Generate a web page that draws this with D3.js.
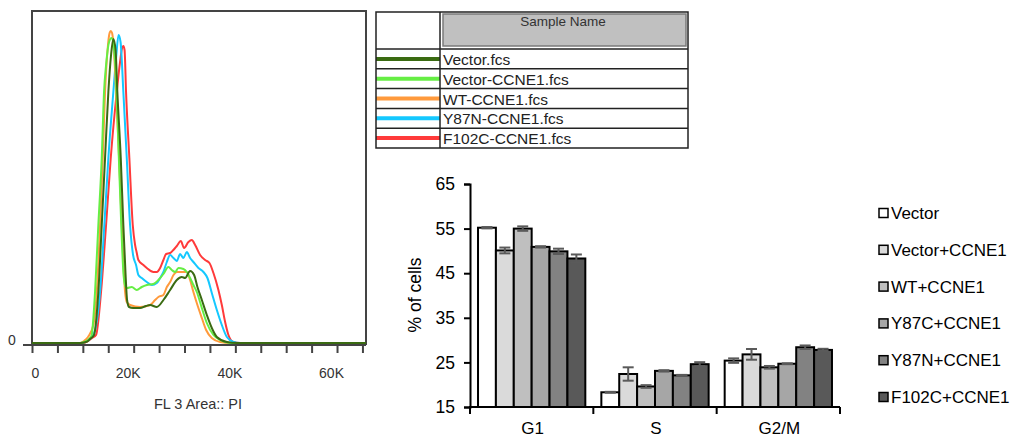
<!DOCTYPE html>
<html>
<head>
<meta charset="utf-8">
<script src="https://cdn.jsdelivr.net/npm/d3@7"></script>
<style>
  body { margin: 0; background: #fff; }
  svg { display: block; font-family: "Liberation Sans", Arial, sans-serif; }
</style>
</head>
<body>
<div id="chart"></div>
<script>
// ---- histogram data (x in K units of FL 3 Area, y in counts) ----
var histSamples = ["Vector.fcs", "Vector-CCNE1.fcs", "WT-CCNE1.fcs", "Y87N-CCNE1.fcs", "F102C-CCNE1.fcs"];
var histColors = ["#3a6b12", "#66ee44", "#ff9a3c", "#14c8ff", "#ff3a3a"];
var histTicks = [0, 5, 10, 15, 20, 25, 30, 35, 40, 45, 50, 55, 60, 65];

var vectorCurve = [[0,0],[9.45,0],[10.63,1],[11.02,2],[11.42,4],[12.2,8],[13.05,51],[13.72,118],[14.37,185],[15.02,251],[15.55,288],[16.0,304],[16.44,293],[16.79,251],[17.46,185],[17.97,118],[18.41,68],[18.7,43],[19.09,36],[19.88,35],[21.26,35],[22.44,37],[23.23,38],[24.55,36],[25.85,43],[27.17,53],[28.48,63],[29.47,66],[30.12,65],[31.1,72],[31.89,68],[32.54,56],[33.41,43],[34.39,28],[35.37,15],[36.36,6],[38.33,1],[40.3,0],[65.7,0]];
var vectorCcne1Curve = [[0,0],[9.45,0],[10.24,1],[11.02,3],[11.75,8],[12.07,25],[12.4,51],[13.05,118],[13.72,185],[14.17,251],[14.57,278],[15.16,301],[15.65,305],[16.04,298],[16.54,263],[17.03,193],[17.52,123],[18.01,68],[18.41,56],[18.7,55],[19.63,56],[20.61,53],[21.59,56],[22.58,58],[23.88,59],[24.86,63],[25.85,69],[26.83,76],[27.5,73],[28.15,71],[28.8,75],[29.78,74],[30.45,71],[31.1,65],[31.75,58],[32.42,51],[33.41,35],[34.39,20],[35.69,8],[37.01,3],[38.98,0],[65.7,0]];
var wtCurve = [[0,0],[9.45,0],[10.24,2],[11.02,6],[12.07,18],[12.74,51],[13.39,118],[13.92,185],[14.37,251],[14.86,293],[15.26,310],[15.49,312],[15.75,310],[16.04,298],[16.54,251],[17.13,185],[17.66,118],[18.31,51],[18.64,41],[19.29,38],[21.26,36],[23.23,38],[24.21,43],[24.86,46],[25.85,48],[26.52,56],[27.17,61],[27.83,68],[28.48,71],[29.47,71],[30.45,71],[31.1,63],[31.75,51],[32.54,38],[33.41,25],[34.25,13],[35.37,5],[37.01,1],[38.98,0],[65.7,0]];
var y87nCurve = [[0,0],[9.84,0],[10.83,2],[11.61,5],[12.4,13],[13.39,51],[14.23,118],[15.02,185],[16.0,251],[16.54,285],[17.03,308],[17.42,301],[17.97,251],[18.64,185],[19.29,118],[19.88,88],[20.47,78],[20.93,68],[21.59,65],[22.58,61],[23.56,58],[24.55,60],[25.2,65],[25.85,71],[26.52,81],[27.17,88],[27.83,85],[28.48,82],[29.13,89],[29.78,85],[30.45,91],[31.1,85],[31.75,81],[32.74,75],[33.72,71],[34.51,65],[35.37,50],[36.36,33],[37.34,18],[38.33,6],[39.63,1],[40.94,0],[65.7,0]];
var f102cCurve = [[0,0],[10.04,0],[11.02,2],[11.81,5],[12.6,8],[13.58,51],[14.57,118],[15.49,185],[16.67,251],[17.32,281],[17.72,295],[17.97,297],[18.21,293],[18.5,251],[19.15,185],[19.82,118],[20.28,98],[20.57,91],[20.93,83],[21.91,78],[22.58,75],[23.88,71],[24.55,71],[25.2,75],[25.85,83],[26.38,89],[27.17,90],[27.81,93],[28.48,97],[29.27,102],[29.92,95],[30.77,101],[31.44,103],[32.09,98],[33.07,88],[34.06,83],[34.9,80],[35.69,70],[36.67,53],[37.34,38],[37.99,21],[38.64,8],[39.63,1],[40.94,0],[65.7,0]];
var histCurves = [vectorCurve, vectorCcne1Curve, wtCurve, y87nCurve, f102cCurve];

// ---- bar chart data ----
var phases = ["G1", "S", "G2/M"];
var groups = ["Vector", "Vector+CCNE1", "WT+CCNE1", "Y87C+CCNE1", "Y87N+CCNE1", "F102C+CCNE1"];
var g1Values = [55.2, 50.1, 55.0, 50.9, 49.9, 48.3];
var g1Errors = [0.15, 0.65, 0.5, 0.15, 0.6, 0.9];
var sValues = [18.3, 22.4, 19.6, 23.1, 22.1, 24.6];
var sErrors = [0.1, 1.5, 0.3, 0.15, 0.1, 0.45];
var g2mValues = [25.4, 26.8, 23.9, 24.7, 28.4, 27.8];
var g2mErrors = [0.5, 1.2, 0.3, 0.1, 0.4, 0.25];
var yTicks = [15, 25, 35, 45, 55, 65];
var barColors = ["#ffffff", "#dadada", "#bfbfbf", "#a6a6a6", "#828282", "#595959"];

var svg = d3.select("#chart").append("svg")
  .attr("width", 1022)
  .attr("height", 439);
svg.append("rect").attr("width", 1022).attr("height", 439).attr("fill", "#fff");

// ================= histogram =================
var hx = d3.scaleLinear().domain([0, 65.7]).range([32, 366]);
var hy = d3.scaleLinear().domain([0, 332]).range([343, 11]);

var hist = svg.append("g");
// frame
hist.append("path")
  .attr("d", "M" + hx(0) + "," + 345 + "V" + hy(332) + "H" + hx(65.7) + "V345")
  .attr("fill", "none").attr("stroke", "#444").attr("stroke-width", 2);

var hAxis = hist.append("g")
  .attr("transform", "translate(0,345)")
  .call(d3.axisBottom(hx).tickValues(histTicks).tickSize(8).tickPadding(15)
    .tickFormat(function(d){ return d % 20 === 0 ? (d === 0 ? "0" : d + "K") : ""; }));
hAxis.select(".domain").remove();
hAxis.selectAll(".tick line").attr("stroke", "#444").attr("stroke-width", 2);
hAxis.selectAll(".tick text")
  .attr("fill", "#333").style("font-size", "14px")
  .attr("dx", function(d){ return d === 0 ? 3 : -6; });
hist.append("line")
  .attr("x1", 23).attr("x2", hx(65.7)).attr("y1", 345).attr("y2", 345)
  .attr("stroke", "#444").attr("stroke-width", 2);
hist.append("text").attr("x", 12).attr("y", 345)
  .attr("text-anchor", "middle").attr("fill", "#333").style("font-size", "14px").text("0");
hist.append("text").attr("x", 198).attr("y", 409)
  .attr("text-anchor", "middle").attr("fill", "#333").style("font-size", "14.5px").text("FL 3 Area:: PI");

var line = d3.line()
  .x(function(d){ return hx(d[0]); })
  .y(function(d){ return hy(d[1]); })
  .curve(d3.curveMonotoneX);

// draw so that Vector sits on top
var drawOrder = [4, 3, 2, 1, 0];
drawOrder.forEach(function(i){
  hist.append("path")
    .datum(histCurves[i])
    .attr("d", line)
    .attr("fill", "none")
    .attr("stroke", histColors[i])
    .attr("stroke-width", 2)
    .attr("stroke-linejoin", "round");
});

// ================= sample table =================
var tbl = svg.append("g");
var tLeft = 376, tDiv = 440, tRight = 688, tTop = 12, headBottom = 49, rowH = 19.8;
tbl.append("rect").attr("x", tDiv + 3).attr("y", tTop + 2).attr("width", tRight - tDiv - 5).attr("height", headBottom - tTop - 5)
  .attr("fill", "#c0c0c0").attr("stroke", "#7a7a7a").attr("stroke-width", 1.5);
tbl.append("text").attr("x", 563).attr("y", 26).attr("text-anchor", "middle")
  .attr("fill", "#333").style("font-size", "13.5px").text("Sample Name");

histSamples.forEach(function(name, i){
  var top = headBottom + i * rowH;
  tbl.append("line").attr("x1", tLeft).attr("x2", tDiv).attr("y1", top + rowH / 2).attr("y2", top + rowH / 2)
    .attr("stroke", histColors[i]).attr("stroke-width", 4);
  tbl.append("text").attr("x", tDiv + 3).attr("y", top + 16)
    .attr("fill", "#222").style("font-size", "15.5px").text(name);
  tbl.append("line").attr("x1", tLeft).attr("x2", tRight).attr("y1", top).attr("y2", top)
    .attr("stroke", "#222").attr("stroke-width", 1.5);
});
tbl.append("rect").attr("x", tLeft).attr("y", tTop).attr("width", tRight - tLeft).attr("height", headBottom + rowH * 5 - tTop)
  .attr("fill", "none").attr("stroke", "#222").attr("stroke-width", 1.5);
tbl.append("line").attr("x1", tDiv).attr("x2", tDiv).attr("y1", tTop).attr("y2", headBottom + rowH * 5)
  .attr("stroke", "#222").attr("stroke-width", 1.5);

// ================= bar chart =================
var phaseValues = [g1Values, sValues, g2mValues];
var phaseErrors = [g1Errors, sErrors, g2mErrors];

var bx = d3.scaleBand().domain(phases).range([470, 840]).paddingInner(0.13).paddingOuter(0.065);
var bxInner = d3.scaleBand().domain(groups).range([0, bx.bandwidth()]);
var by = d3.scaleLinear().domain([15, 65]).range([407, 184]);

var bars = svg.append("g");
phases.forEach(function(p, pi){
  var g = bars.append("g").attr("transform", "translate(" + bx(p) + ",0)");
  g.selectAll("rect")
    .data(groups)
    .enter()
    .append("rect")
      .attr("x", function(d){ return bxInner(d); })
      .attr("y", function(d, i){ return by(phaseValues[pi][i]); })
      .attr("width", bxInner.bandwidth())
      .attr("height", function(d, i){ return by(15) - by(phaseValues[pi][i]); })
      .attr("fill", function(d, i){ return barColors[i]; })
      .attr("stroke", "#000")
      .attr("stroke-width", 2);
  // error bars
  groups.forEach(function(gr, i){
    var cx = bxInner(gr) + bxInner.bandwidth() / 2;
    var v = phaseValues[pi][i], e = phaseErrors[pi][i];
    var eb = g.append("g").attr("stroke", "#5a5a5a").attr("stroke-width", 2);
    eb.append("line").attr("x1", cx).attr("x2", cx).attr("y1", by(v + e)).attr("y2", by(v - e));
    eb.append("line").attr("x1", cx - 5.5).attr("x2", cx + 5.5).attr("y1", by(v + e)).attr("y2", by(v + e));
    eb.append("line").attr("x1", cx - 5.5).attr("x2", cx + 5.5).attr("y1", by(v - e)).attr("y2", by(v - e));
  });
});

var yAxis = svg.append("g")
  .attr("transform", "translate(470,0)")
  .call(d3.axisLeft(by).tickValues(yTicks).tickSize(6).tickPadding(9));
yAxis.select(".domain").attr("stroke", "#000").attr("stroke-width", 2);
yAxis.selectAll(".tick line").attr("stroke", "#000").attr("stroke-width", 2);
yAxis.selectAll(".tick text").attr("fill", "#000").style("font-size", "17.5px");

// x axis: line plus ticks at group boundaries
var boundaries = [0, 1, 2, 3].map(function(k){ return 470 + k * bx.step(); });
svg.append("line").attr("x1", 469).attr("x2", 840).attr("y1", 407).attr("y2", 407)
  .attr("stroke", "#000").attr("stroke-width", 2);
svg.selectAll(".xtick").data(boundaries).enter().append("line")
  .attr("x1", function(d){ return d; }).attr("x2", function(d){ return d; })
  .attr("y1", 407).attr("y2", 414)
  .attr("stroke", "#000").attr("stroke-width", 2);
svg.selectAll(".xlab").data(phases).enter().append("text")
  .attr("x", function(d){ return bx(d) + bx.bandwidth() / 2 + 1; })
  .attr("y", 434)
  .attr("text-anchor", "middle").style("font-size", "17px").attr("fill", "#000")
  .text(function(d){ return d; });

svg.append("text")
  .attr("transform", "translate(421,295) rotate(-90)")
  .attr("text-anchor", "middle").style("font-size", "17.5px").attr("fill", "#000")
  .text("% of cells");

// legend
var legend = svg.append("g");
groups.forEach(function(gr, i){
  var cy = 213 + i * 36.8;
  legend.append("rect").attr("x", 879).attr("y", cy - 4.5).attr("width", 9).attr("height", 9)
    .attr("fill", barColors[i]).attr("stroke", "#000").attr("stroke-width", 1.5);
  legend.append("text").attr("x", 891).attr("y", cy + 6)
    .style("font-size", "17px").attr("fill", "#000").text(gr);
});
</script>
</body>
</html>
